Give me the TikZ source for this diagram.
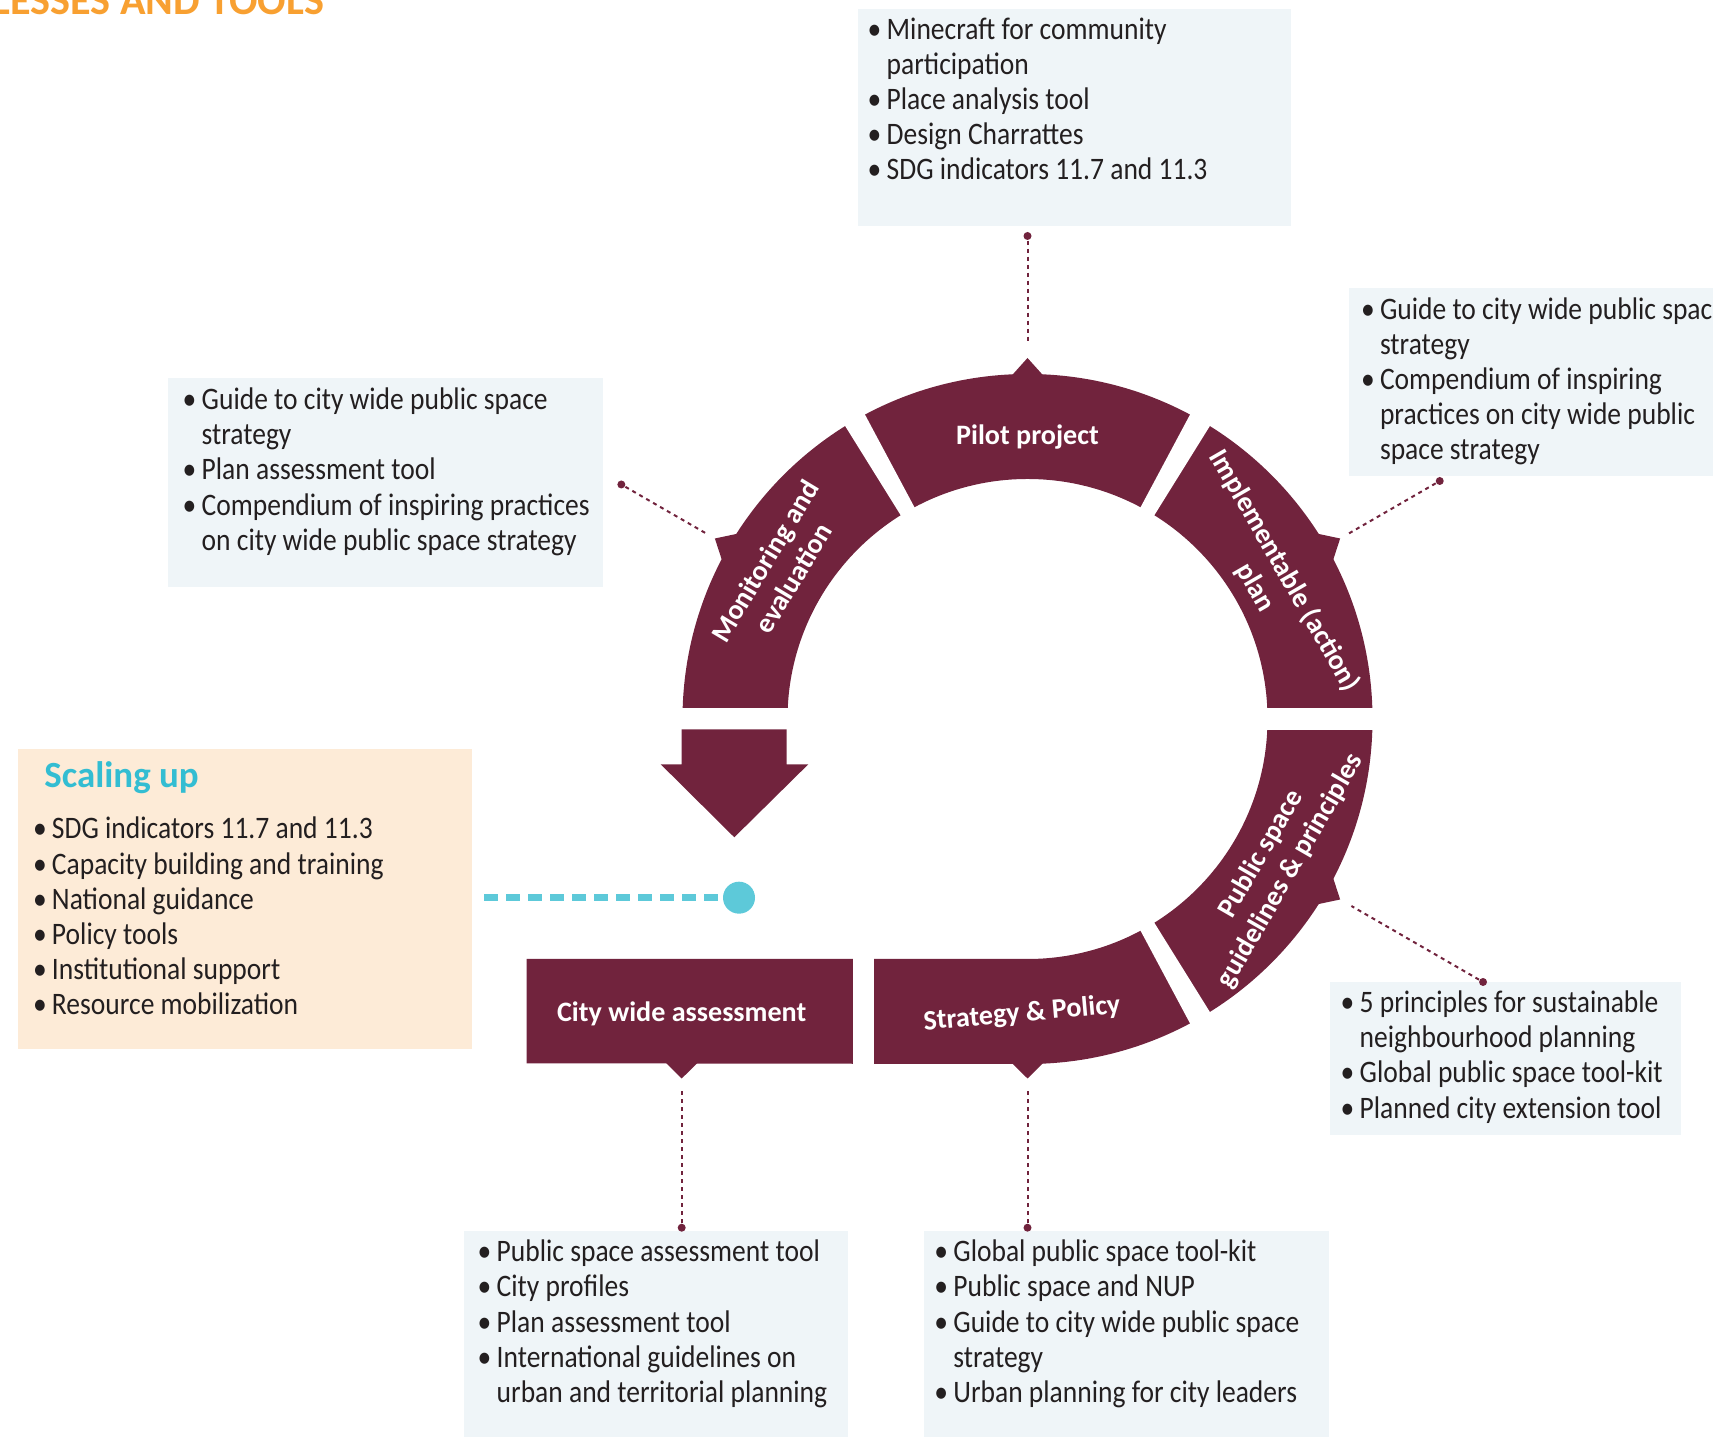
\documentclass[tikz,border=0pt]{standalone}
\usepackage{fontspec}
\setmainfont{Carlito}[FakeStretch=0.88]
\newfontfamily\labelfont{Carlito}
\usetikzlibrary{calc}
\definecolor{ringred}{HTML}{71233D}
\definecolor{toolbg}{HTML}{EFF5F8}
\definecolor{scalebg}{HTML}{FDEBD7}
\definecolor{scalecyan}{HTML}{5DC9D9}
\definecolor{titlecyan}{HTML}{33BDD2}
\definecolor{titleorange}{HTML}{F8A031}
\definecolor{ink}{HTML}{231F20}
\newcommand\bul{\llap{\textbullet\kern1.5pt}}

\begin{document}
\begin{tikzpicture}[x=0.1mm,y=0.1mm,
    ring/.style={fill=ringred},
    gap/.style={fill=white},
    toolbox/.style={fill=toolbg},
    itemlist/.style={anchor=base west,align=left,inner sep=0pt,text=ink,font=\fontsize{8.9}{10}\selectfont},
    seglabel/.style={align=center,inner sep=0pt,text=white,font=\labelfont\bfseries\fontsize{8}{9.5}\selectfont},
    link/.style={ringred,line width=0.57pt,dash pattern=on 0.4mm off 0.4mm},
    linkdot/.style={circle,fill=ringred,inner sep=0pt,minimum size=0.8mm}]
  \useasboundingbox (0,0) rectangle (1713,1439);
  \clip (0,0) rectangle (1713,1439);
  \coordinate (C) at (1027.5,720);

  \fill[toolbox] (857.6,1213) rectangle (1291.3,1430.3);
  \fill[toolbox] (1349,962.5) rectangle (1720,1150.6);
  \fill[toolbox] (168.2,852.3) rectangle (602.5,1061);
  \fill[toolbox] (1329.6,304) rectangle (1681.4,457);
  \fill[toolbox] (464.3,2.4) rectangle (847.8,208);
  \fill[toolbox] (924.3,2.4) rectangle (1328.5,208);
  \fill[scalebg] (17.5,390.2) rectangle (472,689.5);

  \fill[ring] ($(C)+(0:345)$) arc[start angle=0,end angle=180,radius=345] -- ++(105,0) arc[start angle=180,end angle=0,radius=240] -- cycle;
  \fill[ring] ($(C)+(0:345)$) arc[start angle=0,end angle=-90,radius=345] -- (526.6,375.7) -- (526.6,480) -- ($(C)+(-90:240)$) arc[start angle=-90,end angle=0,radius=240] -- cycle;
  \foreach \a in {90,30,150,-30}
    \fill[ring] ($(C)+(\a-2.6:344)$) -- ($(C)+(\a:361)$) -- ($(C)+(\a+2.6:344)$) -- cycle;
  \foreach \x in {681.7,1027.5}
    \fill[ring] (\x-15.7,376) -- (\x,360.5) -- (\x+15.7,376) -- cycle;
  \fill[ring] (681.7,709.7) -- (681.7,674.7) -- (660.7,674.7) -- (734.3,601.7) -- (808.3,674.7) -- (786.7,674.7) -- (786.7,709.7) -- cycle;

  \foreach \a in {120,60,-60}
    \fill[gap] (C) -- ($(C)+(\a-1.9:380)$) -- ($(C)+(\a+1.9:380)$) -- cycle;
  \fill[gap] (660,720) rectangle (810,731);
  \fill[gap] (1250,709) rectangle (1390,731);
  \fill[gap] (853.3,350) rectangle (874.3,490);

  \node[seglabel] (pilot) at (1027.5,1002) {Pilot project};
  \node[seglabel,rotate=59] (monitor) at ($(C)+(149:290)$) {Monitoring and\\evaluation};
  \node[seglabel,rotate=-60] (action) at ($(C)+(30:280)$) {Implementable (action)\\plan};
  \node[seglabel,rotate=60] (guide) at ($(C)+(-30:287)$) {Public space\\guidelines \& principles};
  \node[seglabel,rotate=5] (strategy) at (1022,425) {Strategy \& Policy};
  \node[seglabel] (assess) at (681.7,425) {City wide assessment};

  \foreach \n/\a/\r/\s in {pilot/90/376/483,monitor/150/371/469,action/30/370/476,guide/-30/374/526} {
    \coordinate (\n-tip) at ($(C)+(\a:\r)$);
    \node[linkdot] (\n-dot) at ($(C)+(\a:\s)$) {};
    \draw[link] (\n-dot) -- (\n-tip);
  }
  \foreach \n/\x in {assess/681.7,strategy/1027.5} {
    \coordinate (\n-tip) at (\x,351);
    \node[linkdot] (\n-dot) at (\x,211.3) {};
    \draw[link] (\n-dot) -- (\n-tip);
  }

  \node[itemlist] (pilot-list) at (886,1259.1) {\bul Minecraft for community\\participation\\\bul Place analysis tool\\\bul Design Charrattes\\\bul SDG indicators 11.7 and 11.3};
  \node[itemlist] (action-list) at (1379.3,979.4) {\bul Guide to city wide public space\\strategy\\\bul Compendium of inspiring\\practices on city wide public\\space strategy};
  \node[itemlist] (monitor-list) at (201,888.7) {\bul Guide to city wide public space\\strategy\\\bul Plan assessment tool\\\bul Compendium of inspiring practices\\on city wide public space strategy};
  \node[itemlist] (guide-list) at (1359,320.9) {\bul 5 principles for sustainable\\neighbourhood planning\\\bul Global public space tool-kit\\\bul Planned city extension tool};
  \node[itemlist] (assess-list) at (496,36.6) {\bul Public space assessment tool\\\bul City profiles\\\bul Plan assessment tool\\\bul International guidelines on\\urban and territorial planning};
  \node[itemlist] (strategy-list) at (952.7,36.6) {\bul Global public space tool-kit\\\bul Public space and NUP\\\bul Guide to city wide public space\\strategy\\\bul Urban planning for city leaders};

  \node[anchor=base west,inner sep=0pt,text=titlecyan,font=\labelfont\bfseries\fontsize{10.5}{12}\selectfont] (scale-title) at (43.7,651.3) {Scaling up};
  \node[itemlist] (scale-list) at (51.3,424.3) {\bul SDG indicators 11.7 and 11.3\\\bul Capacity building and training\\\bul National guidance\\\bul Policy tools\\\bul Institutional support\\\bul Resource mobilization};
  \node[circle,fill=scalecyan,inner sep=0pt,minimum size=3.2mm] (scale-dot) at (739,541.3) {};
  \coordinate (scale-start) at (484,541.3);
  \draw[scalecyan,line width=2.1pt,dash pattern=on 1.35mm off 0.85mm] (scale-start) -- (scale-dot.west);

  \node[anchor=base west,inner sep=0pt,text=titleorange,font=\labelfont\bfseries\fontsize{12}{14}\selectfont] (heading) at (-8,1424) {LESSES AND TOOLS};
\end{tikzpicture}
\end{document}
